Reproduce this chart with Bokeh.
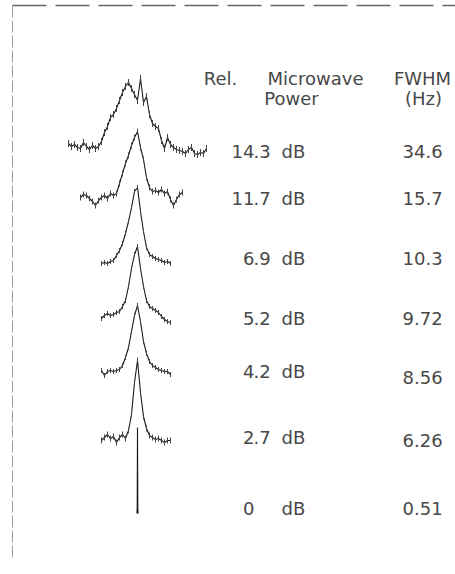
import numpy as np
from bokeh.plotting import figure
from bokeh.models import Range1d, Label
from bokeh.embed import file_html
from bokeh.resources import INLINE

# Table columns
power_labels = ["14.3", "11.7", "6.9", "5.2", "4.2", "2.7", "0"]
fwhm_labels = ["34.6", "15.7", "10.3", "9.72", "8.56", "6.26", "0.51"]

# Resonance signals (arbitrary units), one per microwave power,
# sampled on a uniform detuning grid around line centre
sig_143 = [7, 4, 6, 3, 2, 8, 4, 1, 5, 2, 4, 9, 18, 24, 33, 36, 42, 50, 58, 64,
           68, 62, 56, 50, 72, 48, 54, 36, 27, 24, 22, 10, 2, 13, 6, 3, 1, 0, -1, -3,
           1, 3, -3, -4, -2, -3, 2]
sig_117 = [0, 3, 2, -1, -4, -8, -3, 0, 2, -1, 4, 2, 4, 14, 24, 34, 42, 52, 60, 66,
           50, 38, 20, 10, 6, 7, 5, 8, 4, 6, -2, -8, -2, 3, 5]
sig_69 = [0, 1, 0, 2, 3, 8, 13, 20, 30, 42, 56, 72, 76, 52, 32, 16, 9, 7, 5, 4, 3, 1, 2, 0]
sig_52 = [0, 3, 5, 3, 4, 6, 7, 12, 18, 32, 50, 64, 72, 50, 32, 18, 12, 10, 8, 6, 2, -1, -3, -4]
sig_42 = [1, -4, 0, 1, 0, 1, 2, 6, 14, 24, 40, 56, 66, 50, 30, 18, 10, 6, 4, 2, 1, 0, 0, -3]
sig_27 = [0, 3, 6, 2, 4, -2, 3, 6, 2, 10, 26, 58, 80, 48, 24, 12, 5, 3, 1, 2, 0, -2, 0, 0]
sig_00 = [0, 6, 86, 6, 0]

signals = [sig_143, sig_117, sig_69, sig_52, sig_42, sig_27, sig_00]
# first sample index and step (Hz) of each scan
scan_first = [-23, -19, -12, -12, -12, -12, -2]
scan_step = [2.5, 2.5, 2.5, 2.5, 2.5, 2.5, 0.25]
# statistical error per point
sig_err = [3.5, 3.0, 2.5, 2.5, 2.5, 3.0, 0.0]

W, H = 455, 574
CX = 137.0       # pixel column of line centre
PX_PER_HZ = 1.2


def xd(px):
    return (px - CX) / PX_PER_HZ


def yd(py):
    return H - py


p = figure(width=W, height=H, output_backend="svg", toolbar_location=None,
           x_range=Range1d(xd(0), xd(W)), y_range=Range1d(0, H),
           x_axis_location=None, y_axis_location=None, min_border=0)
p.outline_line_color = None
p.grid.grid_line_color = None
p.background_fill_color = "white"
p.border_fill_color = "white"

# frame fragments
p.line([xd(12), xd(W)], [yd(5), yd(5)], line_color="#666666", line_width=1.5,
       line_dash="34 9")
p.line([xd(12), xd(12)], [yd(5), yd(558)], line_color="#a0a0a0", line_width=1,
       line_dash="12 3")

# stacked spectra
baselines = [150, 197, 263, 318, 371, 440, 513]
for sig, k0, step, err, base in zip(signals, scan_first, scan_step, sig_err, baselines):
    s = np.asarray(sig, dtype=float)
    det = (np.arange(len(s)) + k0) * step
    y = yd(base) + s
    p.line(det, y, line_color="#1a1a1a", line_width=1.1)
    if err > 0:
        p.segment(det, y - err, det, y + err, line_color="#444", line_width=1)

font = "DejaVu Sans"
col = "#484848"


def put(text, px, py, align="left", size="18px"):
    p.add_layout(Label(x=xd(px), y=yd(py), text=text, text_font=font,
                       text_font_size=size, text_color=col, text_align=align,
                       text_baseline="middle"))


# header
put("Rel.", 220, 78, align="center")
put("Microwave", 315, 78, align="center")
put("FWHM", 422, 78, align="center")
put("Power", 291, 98, align="center")
put("(Hz)", 423, 98, align="center")

# rows, power column aligned on the decimal point
power_y = [151, 198, 258, 318, 371, 437, 508]
fwhm_y = [151, 198, 258, 318, 377, 440, 508]
for lab, py in zip(power_labels, power_y):
    ip, _, fp = lab.partition(".")
    put(ip, 254, py, align="right")
    if fp:
        put("." + fp, 253, py)
    put("dB", 281, py)
for lab, py in zip(fwhm_labels, fwhm_y):
    put(lab, 402, py)

open("out.html", "w").write(file_html(p, INLINE))
